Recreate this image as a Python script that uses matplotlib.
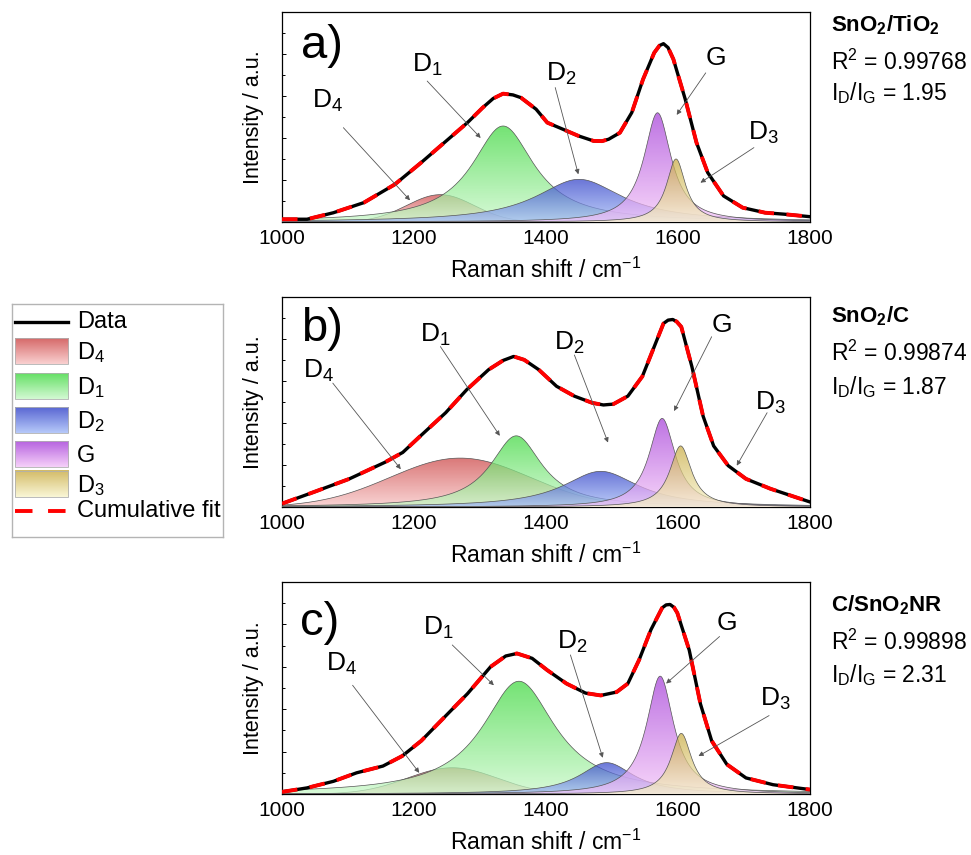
import numpy as np
import matplotlib
matplotlib.use('Agg')
import matplotlib.pyplot as plt
import matplotlib.colors as mcolors
from matplotlib.ticker import MultipleLocator

plt.rcParams['font.family'] = ['Liberation Sans', 'DejaVu Sans']
plt.rcParams['mathtext.fontset'] = 'custom'
plt.rcParams['mathtext.rm'] = 'Liberation Sans'
plt.rcParams['mathtext.it'] = 'Liberation Sans:italic'
plt.rcParams['mathtext.bf'] = 'Liberation Sans:bold'
plt.rcParams['mathtext.default'] = 'regular'

shift_a = [1000, 1038, 1078, 1124, 1171, 1211, 1246, 1281, 1304, 1320, 1335, 1350, 1362, 1385,
           1402, 1426, 1449, 1472, 1485, 1495, 1512, 1530, 1547, 1564, 1572, 1578, 1585, 1593,
           1611, 1628, 1645, 1669, 1698, 1732, 1761, 1800]
inten_a = [0.013, 0.013, 0.044, 0.092, 0.179, 0.283, 0.378, 0.473, 0.544, 0.588, 0.611, 0.605,
           0.592, 0.537, 0.473, 0.441, 0.410, 0.386, 0.385, 0.394, 0.425, 0.521, 0.679, 0.806,
           0.840, 0.849, 0.830, 0.775, 0.584, 0.378, 0.235, 0.124, 0.068, 0.044, 0.037, 0.025]

shift_b = [1000, 1048, 1102, 1156, 1183, 1210, 1248, 1280, 1313, 1335, 1351, 1367, 1389, 1416,
           1443, 1470, 1487, 1502, 1524, 1546, 1562, 1578, 1585, 1592, 1598, 1605, 1621, 1638,
           1654, 1676, 1703, 1740, 1778, 1800]
inten_b = [0.016, 0.071, 0.134, 0.213, 0.260, 0.339, 0.449, 0.559, 0.654, 0.698, 0.717, 0.701,
           0.654, 0.575, 0.528, 0.496, 0.486, 0.490, 0.528, 0.622, 0.748, 0.874, 0.890, 0.893,
           0.883, 0.858, 0.669, 0.433, 0.291, 0.197, 0.134, 0.087, 0.047, 0.024]

shift_c = [1000, 1038, 1078, 1113, 1153, 1182, 1211, 1246, 1281, 1316, 1339, 1356, 1379, 1402,
           1431, 1460, 1483, 1507, 1524, 1541, 1559, 1576, 1582, 1588, 1594, 1599, 1617, 1634,
           1651, 1674, 1703, 1744, 1800]
inten_c = [0.010, 0.029, 0.060, 0.100, 0.132, 0.179, 0.251, 0.362, 0.473, 0.600, 0.651, 0.663,
           0.640, 0.584, 0.521, 0.476, 0.465, 0.481, 0.521, 0.632, 0.775, 0.878, 0.892, 0.894,
           0.880, 0.854, 0.679, 0.425, 0.251, 0.140, 0.076, 0.044, 0.021]

# ---- fitted components: centre (cm-1), height, FWHM (cm-1) in order D4, D1, D2, G, D3 ----
peak_names = ['D$_4$', 'D$_1$', 'D$_2$', 'G', 'D$_3$']
centre_a = [1240, 1335, 1450, 1569, 1597]
height_a = [0.13, 0.457, 0.203, 0.52, 0.30]
fwhm_a = [120, 115, 160, 50, 35]

centre_b = [1270, 1355, 1483, 1576, 1604]
height_b = [0.233, 0.339, 0.17, 0.422, 0.291]
fwhm_b = [250, 95, 140, 48, 40]

centre_c = [1258, 1359, 1492, 1573, 1605]
height_c = [0.124, 0.532, 0.148, 0.556, 0.286]
fwhm_c = [160, 135, 100, 50, 38]

samples = ['SnO$_\\mathbf{2}$/TiO$_\\mathbf{2}$', 'SnO$_\\mathbf{2}$/C', 'C/SnO$_\\mathbf{2}$NR']
r_squared = ['0.99768', '0.99874', '0.99898']
id_ig = ['1.95', '1.87', '2.31']

top_cols = ['#cc4444', '#3ed83e', '#3040c8', '#a43cd8', '#c8aa40']
bot_cols = ['#f8c4c4', '#c8f8c8', '#a4bcf8', '#f4c4f8', '#f8f4cc']

x = np.linspace(1000, 1800, 1601)


def component(kind, c, h, w):
    if kind == 0:
        return h * np.exp(-4 * np.log(2) * (x - c) ** 2 / w ** 2)
    return h / (1 + ((x - c) / (w / 2)) ** 2)


def grad_fill(ax, y, ctop, cbot, z):
    poly = ax.fill_between(x, 0, y, facecolor='none', edgecolor='none', zorder=z)
    t = np.array(mcolors.to_rgba(ctop))
    b = np.array(mcolors.to_rgba(cbot))
    f = np.linspace(0, 1, 256)[:, None]
    img = (b * (1 - f) + t * f)[:, None, :]
    im = ax.imshow(img, extent=[1000, 1800, 0, y.max()], origin='lower',
                   aspect='auto', alpha=0.72, zorder=z)
    im.set_clip_path(poly.get_paths()[0], transform=ax.transData)
    ax.plot(x, y, color='#555555', lw=0.5, zorder=z + 0.1)


fig = plt.figure(figsize=(9.71, 8.55), dpi=100)

panels = [
    ('a)', shift_a, inten_a, centre_a, height_a, fwhm_a, 0.7404, 0.2456,
     [0.938, 0.762, 0.614]),
    ('b)', shift_b, inten_b, centre_b, height_b, fwhm_b, 0.4070, 0.2456,
     [0.91, 0.733, 0.571]),
    ('c)', shift_c, inten_c, centre_c, height_c, fwhm_c, 0.0713, 0.2480,
     [0.89, 0.717, 0.561]),
]

# label positions / arrow start / arrow tip (data coords) for D4, D1, D2, G, D3
labels_pos = [
    [(1069, 0.576), (1220, 0.75), (1423, 0.703), (1657, 0.78), (1729, 0.425)],
    [(1056, 0.646), (1232, 0.82), (1435, 0.78), (1667, 0.866), (1740, 0.496)],
    [(1090, 0.616), (1237, 0.782), (1440, 0.719), (1674, 0.806), (1747, 0.449)],
]
arrow_from = [
    [(1093, 0.449), (1220, 0.671), (1414, 0.64), (1642, 0.71), (1715, 0.354)],
    [(1077, 0.59), (1240, 0.764), (1443, 0.724), (1651, 0.811), (1735, 0.449)],
    [(1107, 0.513), (1258, 0.703), (1437, 0.656), (1663, 0.743), (1738, 0.37)],
]
arrow_to = [
    [(1194, 0.103), (1301, 0.40), (1449, 0.227), (1598, 0.51), (1634, 0.187)],
    [(1180, 0.18), (1330, 0.339), (1494, 0.307), (1594, 0.457), (1689, 0.197)],
    [(1208, 0.10), (1321, 0.513), (1486, 0.171), (1582, 0.521), (1631, 0.179)],
]
panel_letter_pos = [(1060, 0.84), (1060, 0.85), (1057, 0.806)]

for i, (letter, sx, sy, cen, hgt, fw, bottom, height, txt_y) in enumerate(panels):
    ax = fig.add_axes([0.2904, bottom, 0.5438, height])
    for k in range(5):
        y = component(k, cen[k], hgt[k], fw[k])
        grad_fill(ax, y, top_cols[k], bot_cols[k], 2 + k)
    ax.plot(sx, sy, color='black', lw=2.4, zorder=10)
    ax.plot(sx, sy, color='red', lw=2.8, ls=(0, (4, 3.2)), zorder=11)

    ax.set_xlim(1000, 1800)
    ax.set_ylim(0, 1)
    ax.set_xticks([1000, 1200, 1400, 1600, 1800])
    ax.yaxis.set_major_locator(MultipleLocator(0.2))
    ax.yaxis.set_minor_locator(MultipleLocator(0.1))
    ax.tick_params(axis='y', which='both', direction='in', labelleft=False, width=0.7)
    ax.tick_params(axis='y', which='major', length=3)
    ax.tick_params(axis='y', which='minor', length=1.8)
    ax.tick_params(axis='x', length=0, labelsize=15, pad=5)
    for sp in ax.spines.values():
        sp.set_linewidth(0.9)
    ax.set_xlabel('Raman shift / cm$^{-1}$', fontsize=16.5, labelpad=7)
    ax.set_ylabel('Intensity / a.u.', fontsize=15.5, labelpad=13)

    ax.text(*panel_letter_pos[i], letter, fontsize=34, ha='center', va='center', zorder=12)
    for k in range(5):
        ax.annotate('', xy=arrow_to[i][k], xytext=arrow_from[i][k],
                    arrowprops=dict(arrowstyle='-|>', color='#555555', lw=0.6,
                                    mutation_scale=7, shrinkA=0, shrinkB=0), zorder=12)
        ax.text(*labels_pos[i][k], peak_names[k], fontsize=19, ha='center', va='center',
                zorder=12)

    ax.text(1.04, txt_y[0], samples[i], transform=ax.transAxes, fontsize=16,
            fontweight='bold', va='center', ha='left')
    ax.text(1.04, txt_y[1], 'R$^2$ = ' + r_squared[i], transform=ax.transAxes,
            fontsize=16.5, va='center', ha='left')
    ax.text(1.04, txt_y[2], 'I$_D$/I$_G$ = ' + id_ig[i], transform=ax.transAxes,
            fontsize=16.5, va='center', ha='left')

# ---- hand-made legend (gradient patches) ----
lg = fig.add_axes([12 / 971, 1 - 537 / 855, 211 / 971, 233 / 855])
lg.set_xticks([])
lg.set_yticks([])
for sp in lg.spines.values():
    sp.set_color('#b4b4b4')
    sp.set_linewidth(1.0)

lg.plot([3, 56], [18, 18], color='black', lw=2.4)
lg.text(65, 18, 'Data', fontsize=17, va='center')
patch_y = [47, 82, 116, 150, 180]
for k in range(5):
    t = np.array(mcolors.to_rgba(top_cols[k]))
    b = np.array(mcolors.to_rgba(bot_cols[k]))
    f = np.linspace(0, 1, 64)[:, None]
    img = (t * (1 - f) + b * f)[:, None, :]
    lg.imshow(img, extent=[3, 56, patch_y[k] + 13, patch_y[k] - 13], aspect='auto',
              origin='upper', alpha=0.8)
    lg.add_patch(plt.Rectangle((3, patch_y[k] - 13), 53, 26, fill=False,
                               edgecolor='#b0b0b0', lw=0.6))
    lg.text(65, patch_y[k] + 2, peak_names[k], fontsize=17, va='center')
lg.plot([3, 56], [207, 207], color='red', lw=2.8, ls=(0, (4.5, 4)))
lg.text(65, 207, 'Cumulative fit', fontsize=17, va='center')
lg.set_xlim(0, 211)
lg.set_ylim(233, 0)

fig.savefig('out.png', dpi=100)
